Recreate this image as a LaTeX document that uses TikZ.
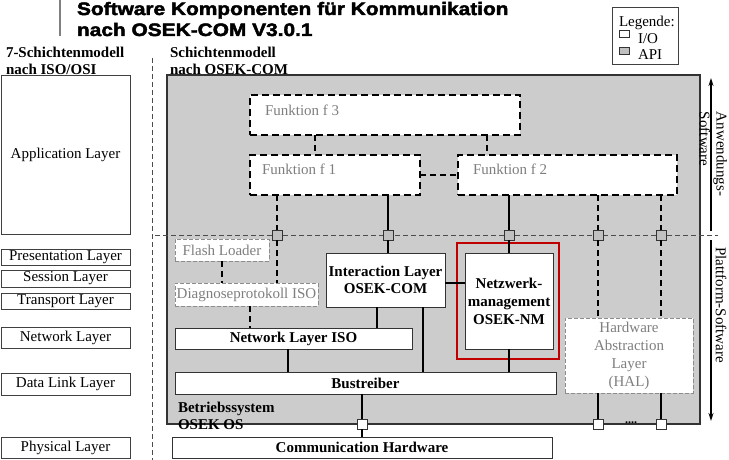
\documentclass[tikz,border=0pt]{standalone}
\usepackage{fontspec}
\setmainfont{Liberation Serif}
\newfontfamily\titlefont{Liberation Sans}[FakeStretch=1.16,FakeBold=2.5]
\usetikzlibrary{arrows.meta}
\definecolor{boxgray}{HTML}{CCCCCC}
\definecolor{txtgray}{HTML}{7F7F7F}
\definecolor{nmred}{HTML}{C00000}
\definecolor{apigray}{HTML}{C0C0C0}
\begin{document}
\begin{tikzpicture}[x=1pt,y=-1pt,
  every node/.style={inner sep=0pt,outer sep=0pt},
  txt/.style={font=\fontsize{15}{18}\selectfont},
  btxt/.style={font=\fontsize{15}{18}\selectfont\bfseries},
  osibox/.style={draw=black!75,line width=0.8pt,fill=white,minimum width=129pt,font=\fontsize{15}{18}\selectfont},
  fbox/.style={draw=black,dash pattern=on 7pt off 4pt,line width=1.5pt,fill=white},
  gbox/.style={draw=black!45,dash pattern=on 4pt off 2pt,line width=1pt,fill=white,text=txtgray,font=\fontsize{15}{18}\selectfont},
  sbox/.style={draw=black!80,line width=1pt,fill=white,font=\fontsize{15}{17}\selectfont\bfseries},
  apisq/.style={draw=black!80,fill=apigray,minimum size=10pt,line width=0.7pt},
  iosq/.style={draw=black!80,fill=white,minimum size=10pt,line width=0.7pt},
  conn/.style={line width=1.6pt},
  dconn/.style={line width=1.6pt,dash pattern=on 6pt off 4pt},
  thindash/.style={line width=0.7pt,draw=black!70,dash pattern=on 5pt off 3pt},
  arr/.style={line width=1.3pt,-{Stealth[length=8pt,width=5pt]}}
]
\useasboundingbox (0,0) rectangle (729,460);

% top-left gray line
\coordinate (g1) at (60,0);
\coordinate (g2) at (60,36);
\draw[black!50,line width=1.4pt] (g1) -- (g2);

% title
\node[anchor=base west,font=\titlefont\bfseries\fontsize{18}{21}\selectfont] (title1) at (77,15) {Software Komponenten für Kommunikation};
\node[anchor=base west,font=\titlefont\bfseries\fontsize{18}{21}\selectfont] (title2) at (77,36) {nach OSEK-COM V3.0.1};

% legend
\node[draw=black!75,line width=0.8pt,fill=white,minimum width=66pt,minimum height=57pt] (legend) at (645,35.5) {};
\node[txt,anchor=base west] (legt) at (619,27) {Legende:};
\node[iosq,minimum width=10pt,minimum height=7pt] (legio) at (624,34) {};
\node[apisq,minimum width=10pt,minimum height=7pt] (legapi) at (624,51) {};
\node[txt,anchor=base west] (legiot) at (638,44) {I/O};
\node[txt,anchor=base west] (legapit) at (638,60) {API};

% headers
\node[btxt,anchor=base west] (h1a) at (6,58) {7-Schichtenmodell};
\node[btxt,anchor=base west] (h1b) at (6,75) {nach ISO/OSI};
\node[btxt,anchor=base west] (h2a) at (170,58) {Schichtenmodell};
\node[btxt,anchor=base west] (h2b) at (170,75) {nach OSEK-COM};

% vertical dashed separator
\coordinate (v1) at (152,58);
\coordinate (v2) at (152,460);
\draw[thindash] (v1) -- (v2);

% OSI layers
\node[osibox,minimum height=159pt] (app) at (65.5,154.5) {Application Layer};
\node[osibox,minimum height=16pt] (pres) at (65.5,257) {Presentation Layer};
\node[osibox,minimum height=17pt] (sess) at (65.5,278.5) {Session Layer};
\node[osibox,minimum height=16pt] (trans) at (65.5,301) {Transport Layer};
\node[osibox,minimum height=21pt] (net) at (65.5,337.5) {Network Layer};
\node[osibox,minimum height=22pt] (dl) at (65.5,384) {Data Link Layer};
\node[osibox,minimum height=21pt] (phys) at (65.5,447.5) {Physical Layer};

% main gray box
\node[draw=black!80,line width=1.2pt,fill=boxgray,minimum width=533pt,minimum height=349pt] (main) at (433.5,249.5) {};

% horizontal dashed separator
\coordinate (hs1) at (155,235);
\coordinate (hs2) at (718,235);
\draw[thindash] (hs1) -- (hs2);

% function boxes
\node[fbox,minimum width=270pt,minimum height=40pt] (f3) at (385,115) {};
\node[fbox,minimum width=170pt,minimum height=40pt] (f1) at (335,175) {};
\node[fbox,minimum width=219pt,minimum height=40pt] (f2) at (567.5,175) {};
\node[txt,text=txtgray,anchor=base west] (f3t) at (265,116) {Funktion f 3};
\node[txt,text=txtgray,anchor=base west] (f1t) at (262,175) {Funktion f 1};
\node[txt,text=txtgray,anchor=base west] (f2t) at (473,175) {Funktion f 2};

% platform boxes
\node[gbox,minimum width=94pt,minimum height=22pt] (flash) at (222,250) {Flash Loader};
\node[gbox,minimum width=143pt,minimum height=23pt] (diag) at (246.5,294.5) {Diagnoseprotokoll ISO};
\node[sbox,minimum width=119pt,minimum height=54pt,align=center] (il) at (385.5,280) {Interaction Layer\\OSEK-COM};
\node[draw=nmred,line width=2.4pt,minimum width=102pt,minimum height=116pt] (red) at (508,301) {};
\node[sbox,minimum width=88pt,minimum height=96pt,align=center,font=\fontsize{15}{18}\selectfont\bfseries] (nm) at (509,301) {Netzwerk-\\management\\OSEK-NM};
\node[sbox,minimum width=237pt,minimum height=21pt] (nl) at (293.5,338.5) {Network Layer ISO};
\node[sbox,minimum width=381pt,minimum height=22pt] (bus) at (365.5,383) {Bustreiber};
\node[sbox,minimum width=380pt,minimum height=21pt] (ch) at (362,447.5) {Communication Hardware};
\node[gbox,minimum width=128pt,minimum height=75pt,align=center] (hal) at (629,355.5) {Hardware\\Abstraction\\Layer\\(HAL)};

% OS label
\node[btxt,anchor=base west] (os1) at (178,412) {Betriebssystem};
\node[btxt,anchor=base west] (os2) at (178,429) {OSEK OS};

% API squares
\node[apisq] (s1) at (277,235) {};
\node[apisq] (s2) at (388,235) {};
\node[apisq] (s3) at (509,235) {};
\node[apisq] (s4) at (598,235) {};
\node[apisq] (s5) at (661,235) {};
% I/O squares
\node[iosq] (b1) at (362,424) {};
\node[iosq] (b2) at (598,424) {};
\node[iosq] (b3) at (661,424) {};
\node[font=\fontsize{12}{12}\selectfont\bfseries,anchor=base] (dots) at (631,423) {....};

% helper coordinates
\coordinate (cA) at (315,0);
\coordinate (cB) at (487,0);
\coordinate (cDN) at (250,0);
\coordinate (cIN) at (377,0);
\coordinate (cIB) at (423,0);
\coordinate (cNB) at (288,0);
\coordinate (cH) at (0,283);

% connectors
\draw[dconn] (f3.south -| cA) -- (f1.north -| cA);
\draw[dconn] (f3.south -| cB) -- (f2.north -| cB);
\draw[dconn] (f1.east) -- (f2.west);
\draw[dconn] (f1.south -| s1) -- (s1.north);
\draw[dconn] (s1.south) -- (diag.north -| s1);
\draw[conn] (f1.south -| s2) -- (s2.north);
\draw[conn] (s2.south) -- (il.north -| s2);
\draw[conn] (f2.south -| s3) -- (s3.north);
\draw[conn] (s3.south) -- (nm.north -| s3);
\draw[dconn] (f2.south -| s4) -- (s4.north);
\draw[dconn] (s4.south) -- (hal.north -| s4);
\draw[dconn] (f2.south -| s5) -- (s5.north);
\draw[dconn] (s5.south) -- (hal.north -| s5);
\draw[conn] (hal.south -| b2) -- (b2.north);
\draw[conn] (hal.south -| b3) -- (b3.north);
\draw[dconn] (flash.south) -- (diag.north -| flash.south);
\draw[dconn] (diag.south -| cDN) -- (nl.north -| cDN);
\draw[conn] (il.south -| cIN) -- (nl.north -| cIN);
\draw[conn] (il.south -| cIB) -- (bus.north -| cIB);
\draw[conn] (il.east |- cH) -- (nm.west |- cH);
\draw[conn] (nm.south -| s3) -- (bus.north -| s3);
\draw[conn] (nl.south -| cNB) -- (bus.north -| cNB);
\draw[conn] (bus.south -| b1) -- (b1.north);
\draw[conn] (b1.south) -- (ch.north -| b1);

% side arrows and labels
\coordinate (au1) at (711,231);
\coordinate (au2) at (711,78);
\coordinate (ad1) at (711,240);
\coordinate (ad2) at (711,421);
\draw[arr] (au1) -- (au2);
\draw[arr] (ad1) -- (ad2);
\node[txt,rotate=-90,anchor=north west,align=left,font=\fontsize{15}{17}\selectfont] (anw) at (727,112) {Anwendungs-\\Software};
\node[txt,rotate=-90] (platt) at (721,305) {Plattform-Software};
\end{tikzpicture}
\end{document}
